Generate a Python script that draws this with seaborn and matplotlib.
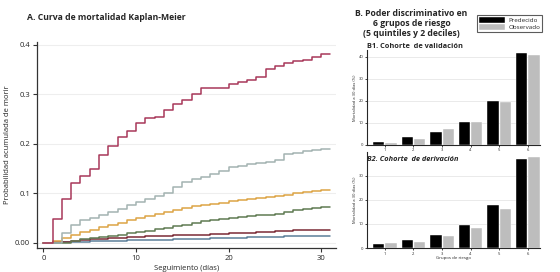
import numpy as np
import pandas as pd
from matplotlib import pyplot as plt
import seaborn as sns

# Kaplan-Meier cumulative mortality by risk group (value after each day)
days = list(range(32))
km_g6 = [0, 0.047, 0.088, 0.12, 0.135, 0.148, 0.177, 0.195, 0.214, 0.226, 0.242, 0.251, 0.253, 0.268,
         0.28, 0.288, 0.30, 0.312, 0.312, 0.312, 0.32, 0.325, 0.329, 0.335, 0.351, 0.356, 0.362, 0.366,
         0.369, 0.374, 0.381, 0.381]
km_g5 = [0, 0, 0.019, 0.036, 0.045, 0.05, 0.056, 0.062, 0.068, 0.075, 0.082, 0.088, 0.094, 0.1, 0.112,
         0.123, 0.128, 0.133, 0.138, 0.145, 0.152, 0.155, 0.158, 0.16, 0.163, 0.167, 0.178, 0.182, 0.185,
         0.187, 0.189, 0.189]
km_g4 = [0, 0.004, 0.01, 0.016, 0.022, 0.026, 0.031, 0.035, 0.04, 0.045, 0.049, 0.054, 0.058, 0.062,
         0.066, 0.07, 0.073, 0.075, 0.078, 0.081, 0.084, 0.087, 0.089, 0.091, 0.093, 0.095, 0.097, 0.1,
         0.102, 0.104, 0.106, 0.106]
km_g3 = [0, 0, 0, 0.004, 0.007, 0.009, 0.012, 0.014, 0.016, 0.019, 0.021, 0.024, 0.027, 0.03, 0.033,
         0.036, 0.04, 0.044, 0.046, 0.048, 0.05, 0.052, 0.054, 0.055, 0.056, 0.058, 0.062, 0.065, 0.067,
         0.069, 0.071, 0.071]
km_g2 = [0, 0.002, 0.002, 0.004, 0.006, 0.007, 0.008, 0.009, 0.01, 0.011, 0.012, 0.013, 0.014, 0.014,
         0.015, 0.015, 0.016, 0.016, 0.017, 0.018, 0.019, 0.02, 0.02, 0.021, 0.022, 0.023, 0.024, 0.025,
         0.025, 0.025, 0.025, 0.025]
km_g1 = [0, 0, 0.001, 0.002, 0.002, 0.003, 0.003, 0.004, 0.004, 0.005, 0.005, 0.006, 0.006, 0.006,
         0.007, 0.007, 0.008, 0.008, 0.009, 0.009, 0.01, 0.01, 0.011, 0.011, 0.012, 0.012, 0.013, 0.013,
         0.013, 0.013, 0.013, 0.013]

# predicted vs observed 30-day mortality (%) per risk group
groups = ["1", "2", "3", "4", "5", "6"]
val_pred = [1.4, 3.5, 5.8, 10.6, 19.9, 41.7]
val_obs = [0.7, 2.9, 7.2, 10.6, 19.6, 40.9]
der_pred = [1.5, 3.2, 5.5, 9.7, 17.7, 36.9]
der_obs = [1.9, 2.6, 4.9, 8.5, 16.2, 37.6]

sns.set_style("white")
plt.rcParams['font.family'] = ['Open Sans', 'DejaVu Sans']

fig = plt.figure(figsize=(5.6, 2.72), dpi=100)

# ---- A. Kaplan-Meier ----
ax = fig.add_axes([0.066, 0.088, 0.534, 0.759])
km = pd.DataFrame({"dia": days * 6,
                   "grupo": sum([[g] * len(days) for g in ["g1", "g2", "g3", "g4", "g5", "g6"]], []),
                   "prob": km_g1 + km_g2 + km_g3 + km_g4 + km_g5 + km_g6})
pal = {"g1": "#5b7f99", "g2": "#7a2a35", "g3": "#5f7a52", "g4": "#dda445",
       "g5": "#a3b3b1", "g6": "#a8385a"}
sns.lineplot(data=km, x="dia", y="prob", hue="grupo", palette=pal, drawstyle="steps-post",
             linewidth=1.1, legend=False, ax=ax)
ax.set_xlim(-0.7, 31.6)
ax.set_ylim(-0.011, 0.406)
ax.set_xticks([0, 10, 20, 30])
ax.set_yticks([0, 0.1, 0.2, 0.3, 0.4])
ax.set_yticklabels(["0.00", "0.1", "0.2", "0.3", "0.4"])
ax.yaxis.grid(True, color="#eeeeee", linewidth=0.8)
ax.tick_params(axis="both", labelsize=5.5, length=3, width=0.8, direction="out", color="#333333",
               left=True, bottom=True, pad=2)
for s in ["top", "right"]:
    ax.spines[s].set_visible(False)
for s in ["left", "bottom"]:
    ax.spines[s].set_color("#333333")
    ax.spines[s].set_linewidth(0.9)
ax.set_xlabel("Seguimiento (días)", fontsize=5.5, labelpad=2)
ax.set_ylabel("Probabilidad acumulada de morir", fontsize=5.5, labelpad=3)
fig.text(0.19, 0.935, "A. Curva de mortalidad Kaplan-Meier", fontsize=6.2, fontweight="bold",
         ha="center", va="center")

# ---- B. bar charts ----
fig.text(0.735, 0.915, "B. Poder discriminativo en\n6 grupos de riesgo\n(5 quintiles y 2 deciles)",
         fontsize=6.2, fontweight="bold", ha="center", va="center", linespacing=1.15)

bar_pal = {"Predecido": "#000000", "Observado": "#bdbdbd"}
panels = [("B1. Cohorte  de validación", val_pred, val_obs, [0.655, 0.467, 0.309, 0.349], 43, "normal"),
          ("B2. Cohorte  de derivación", der_pred, der_obs, [0.655, 0.088, 0.309, 0.355], 40, "italic")]
for i, (title, pred, obs, rect, ytop, style) in enumerate(panels):
    bx = fig.add_axes(rect)
    df = pd.DataFrame({"grupo": groups * 2,
                       "serie": ["Predecido"] * 6 + ["Observado"] * 6,
                       "mort": pred + obs})
    sns.barplot(data=df, x="grupo", y="mort", hue="serie", palette=bar_pal, width=0.86, gap=0.08,
                edgecolor="white", linewidth=0.3, ax=bx, legend=(i == 0))
    bx.set_xlim(-0.63, 5.42)
    bx.set_ylim(0, ytop)
    bx.set_yticks([0, 10, 20, 30, 40] if i == 0 else [0, 10, 20, 30])
    bx.yaxis.grid(True, color="#e6e6e6", linewidth=0.6)
    bx.set_axisbelow(True)
    bx.tick_params(axis="both", labelsize=3, length=1.5, width=0.6, left=True, bottom=True, pad=1)
    for s in ["top", "right"]:
        bx.spines[s].set_visible(False)
    bx.spines["left"].set_linewidth(0.8)
    bx.spines["bottom"].set_linewidth(0.8)
    bx.set_xlabel("Grupos de riesgo", fontsize=3.2, labelpad=0.5)
    bx.set_ylabel("Mortalidad a 30 días (%)", fontsize=3, labelpad=1)
    if i == 0:
        bx.set_title(title, fontsize=5.3, fontweight="bold", loc="left", pad=1.5, x=0.0)
        leg = bx.legend(loc="upper right", bbox_to_anchor=(1.03, 1.4), fontsize=4.5, frameon=True,
                        fancybox=False, edgecolor="#333333", handlelength=4.2, handleheight=1.1,
                        borderpad=0.3, labelspacing=0.15, handletextpad=0.5)
        leg.get_frame().set_linewidth(0.8)
    else:
        bx.text(0.0, 0.955, title, transform=bx.transAxes, fontsize=5.3, fontweight="bold",
                fontstyle=style, ha="left", va="top")

fig.savefig("out.png", dpi=100)
